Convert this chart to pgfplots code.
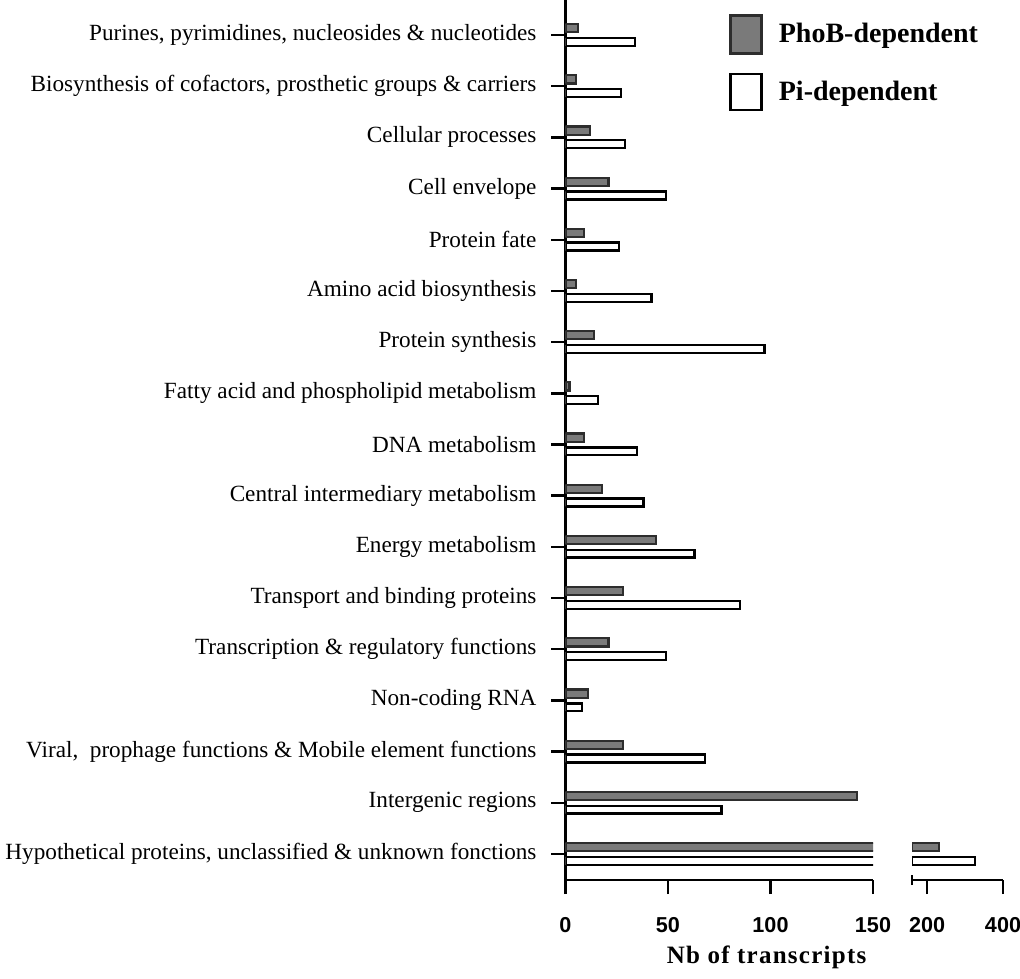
\documentclass[border=0pt]{standalone}
\usepackage{fontspec}
\setmainfont{Liberation Serif}
\newfontfamily\tickfont{Liberation Sans}
\usepackage{pgfplots}
\pgfplotsset{compat=1.18}
\usepackage{pgfplotstable}
\definecolor{phob}{RGB}{122,122,122}
\definecolor{phobline}{RGB}{45,45,45}

\pgfplotstableread{
y phob pi
0 231 326
1 142 76
2 28 68
3 11 8
4 21 49
5 28 85
6 44 63
7 18 38
8 9 35
9 2 16
10 14 97
11 5 42
12 9 26
13 21 49
14 12 29
15 5 27
16 6 34
}\datatable

\pgfplotsset{
  phobbar/.style={xbar, bar width=4.1pt, bar shift=3.42pt, fill=phob, draw=phobline, line width=1.1pt,
    legend image code/.code={\draw[##1, line width=1.2pt] (0pt,-9.5pt) rectangle (15.5pt,9.5pt);}},
  pibar/.style={xbar, bar width=3.95pt, bar shift=-3.42pt, fill=white, draw=black, line width=1.2pt,
    legend image code/.code={\draw[##1, line width=1.2pt] (0pt,-9pt) rectangle (15.5pt,9pt);}},
  common/.style={scale only axis, height=440pt, ymin=-0.508, ymax=16.684,
    axis x line=bottom, axis line style={-, line width=1.3pt, black},
    major tick length=7pt,
    tick style={line width=1.2pt, black},
    /pgf/number format/assume math mode=true,
    xticklabel style={font=\tickfont\bfseries\fontsize{10.8}{12}\selectfont, yshift=-8pt},
    clip=true},
}

\begin{document}
\begin{tikzpicture}
\useasboundingbox (-282.75pt,-49pt) rectangle (227.25pt,440pt);
\begin{axis}[common,
  at={(0pt,0pt)}, anchor=south west,
  width=153.75pt,
  xmin=0, xmax=150,
  axis y line=left,
  x axis line style={-},
  y axis line style={-},
  tick align=outside,
  xtick={0,50,100,150},
  ytick={0,...,16},
  yticklabels={
    {Hypothetical proteins, unclassified \& unknown fonctions},
    {Intergenic regions},
    {Viral,\ \ prophage functions \& Mobile element functions},
    {Non-coding RNA},
    {Transcription \& regulatory functions},
    {Transport and binding proteins},
    {Energy metabolism},
    {Central intermediary metabolism},
    {DNA metabolism},
    {Fatty acid and phospholipid metabolism},
    {Protein synthesis},
    {Amino acid biosynthesis},
    {Protein fate},
    {Cell envelope},
    {Cellular processes},
    {Biosynthesis of cofactors, prosthetic groups \& carriers},
    {Purines, pyrimidines, nucleosides \& nucleotides}},
  yticklabel style={font=\fontsize{11.6}{13}\selectfont, xshift=-4pt},
  xlabel={Nb of transcripts},
  xlabel style={at={(axis description cs:0.654,0)}, anchor=base, yshift=-41.5pt,
    font=\bfseries\fontsize{12.5}{15}\selectfont\addfontfeature{LetterSpace=5}},
  legend style={at={(axis description cs:0.532,0.984)}, anchor=north west, draw=none, fill=none,
    font=\bfseries\fontsize{14}{16}\selectfont, row sep=9pt, inner sep=0pt,
    /tikz/every odd column/.append style={column sep=6pt}},
  legend cell align=left,
]
\addplot[phobbar] table[x=phob, y=y] {\datatable};
\addlegendentry{PhoB-dependent}
\addplot[pibar] table[x=pi, y=y] {\datatable};
\addlegendentry{Pi-dependent}
\end{axis}
\begin{axis}[common,
  at={(173.25pt,0pt)}, anchor=south west,
  width=45.5pt,
  xmin=160, xmax=400,
  axis y line=none, ytick=\empty,
  x axis line style={-},
  tick align=outside,
  xtick={200,400},
  extra x ticks={160}, extra x tick labels={},
  extra x tick style={tick align=center, major tick length=5pt},
]
\addplot[phobbar] coordinates {(231,0)};
\addplot[pibar] coordinates {(326,0)};
\end{axis}
\end{tikzpicture}
\end{document}
